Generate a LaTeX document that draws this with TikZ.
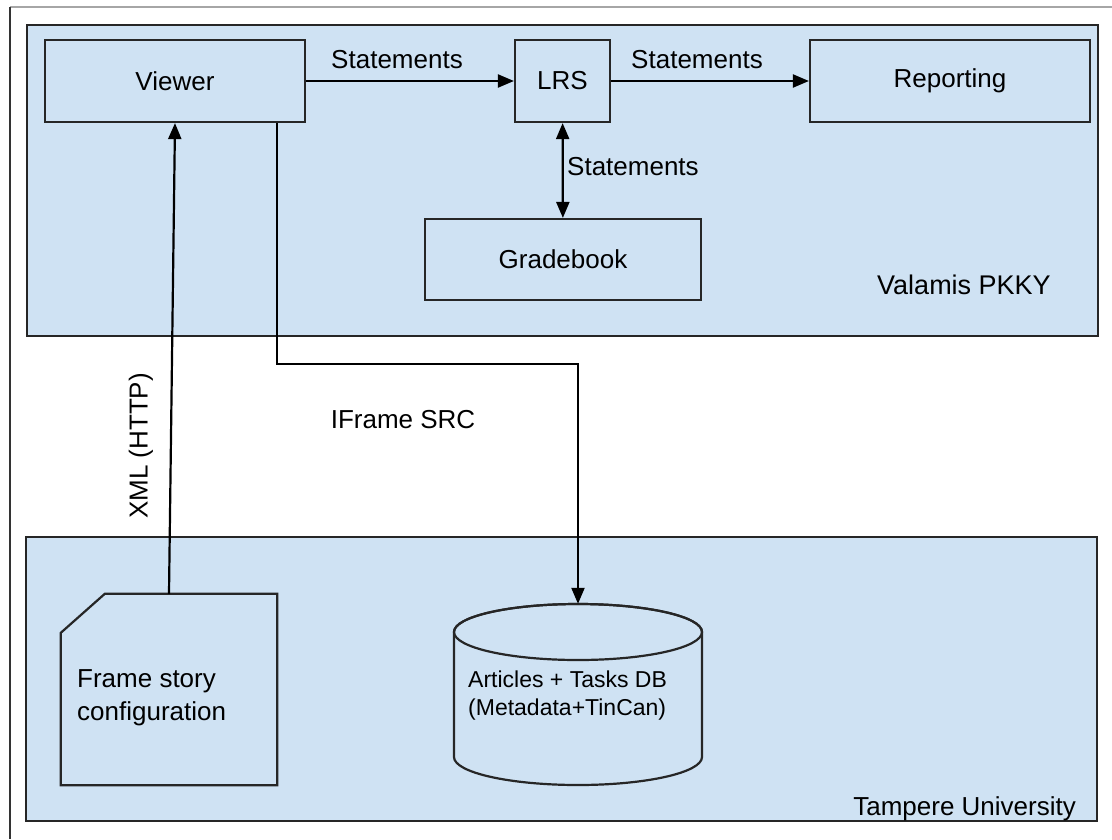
\documentclass[tikz,border=0pt]{standalone}
\usepackage{fontspec}
\setmainfont{Liberation Sans}
\usetikzlibrary{arrows.meta,calc}
\definecolor{paleblue}{RGB}{207,226,243}
\begin{document}
\begin{tikzpicture}[x=1pt,y=-1pt,
  panel/.style={draw=black!85, fill=paleblue, line width=2.2pt, inner sep=0pt},
  box/.style={draw=black!85, fill=paleblue, line width=2.2pt, inner sep=0pt, font=\fontsize{26}{31}\selectfont},
  lbl/.style={inner sep=0pt, font=\fontsize{26}{31}\selectfont},
  small/.style={inner sep=0pt, font=\fontsize{23}{27}\selectfont},
  conn/.style={line width=2.2pt, draw=black},
  arr/.style={conn, -{Triangle[length=16pt,width=13pt]}},
  biarr/.style={conn, {Triangle[length=16pt,width=13pt]}-{Triangle[length=16pt,width=13pt]}},
]
\useasboundingbox (0,0) rectangle (1112,839);
% outer frame
\draw[gray!70, line width=1.5pt] (10,7) -- (1112,7);
\draw[black!80, line width=2pt] (10,7) -- (10,839);

% panels
\node[panel, minimum width=1071pt, minimum height=311pt] (valamis) at (562.5,180.5) {};
\node[panel, minimum width=1071pt, minimum height=284pt] (tampere) at (561.5,679) {};
\node[lbl, font=\fontsize{27}{32}\selectfont] (valamislbl) at (964,285) {Valamis PKKY};
\node[lbl, anchor=base east] (tamperelbl) at (1076,815) {Tampere University};

% top boxes
\node[box, minimum width=260pt, minimum height=82pt] (viewer) at (175,81) {Viewer};
\node[box, minimum width=95pt, minimum height=82pt] (lrs) at (562.5,81) {LRS};
\node[box, minimum width=280pt, minimum height=82pt] (reporting) at (950,81) {Reporting};
\node[box, minimum width=276pt, minimum height=81pt] (gradebook) at (563,259.5) {Gradebook};

% frame story document
\node[inner sep=0pt, minimum width=216pt, minimum height=191pt] (frame) at (169,689.5) {};
\filldraw[panel] ([xshift=44pt]frame.north west) -- (frame.north east) -- (frame.south east)
  -- (frame.south west) -- ([yshift=-39pt]frame.north west) -- cycle;
\node[lbl, anchor=base west] (frame1) at (77,687) {Frame story};
\node[lbl, anchor=base west] (frame2) at (77,720) {configuration};

% database cylinder
\node[inner sep=0pt, minimum width=248pt, minimum height=181pt] (db) at (578,694.5) {};
\filldraw[panel] (454,632) -- (454,757) arc[start angle=180, end angle=360, x radius=124pt, y radius=28pt]
  -- (702,632) arc[start angle=0, end angle=180, x radius=124pt, y radius=28pt] -- cycle;
\draw[draw=black!85, line width=2.2pt] (578,632) ellipse [x radius=124pt, y radius=28pt];
\node[small, anchor=base west] (db1) at (468,687) {Articles + Tasks DB};
\node[small, anchor=base west] (db2) at (468,715) {(Metadata+TinCan)};

% connectors
\draw[arr] (viewer) -- (lrs);
\draw[arr] (lrs) -- (reporting);
\draw[biarr] (lrs) -- (gradebook);
\draw[arr] (frame.north) -- (viewer.south);
\draw[arr] ([xshift=102pt]viewer.south) -- ++(0,241) -| (db.north);

% connector labels
\node[lbl] (st1) at (397,60) {Statements};
\node[lbl] (st2) at (697,60) {Statements};
\node[lbl, anchor=west] (st3) at (567,167) {Statements};
\node[lbl, rotate=90] (xml) at (141,446) {XML (HTTP)};
\node[lbl] (iframe) at (403,420) {IFrame SRC};
\end{tikzpicture}
\end{document}
